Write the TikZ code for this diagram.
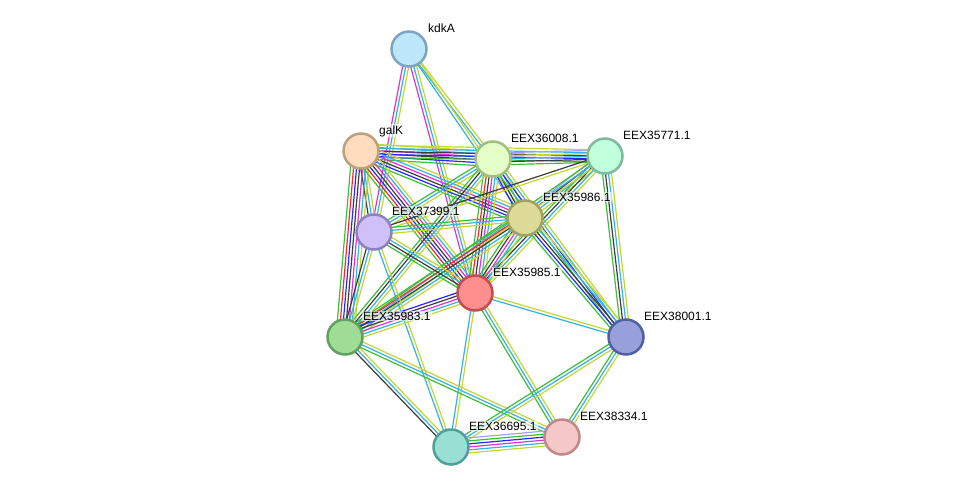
\documentclass[tikz,border=0pt]{standalone}
\usepackage{fontspec}
\setmainfont{Liberation Sans}
\usetikzlibrary{calc}
\definecolor{cG}{RGB}{60,190,60}
\definecolor{cR}{RGB}{250,40,40}
\definecolor{cB}{RGB}{40,40,250}
\definecolor{cK}{RGB}{60,60,60}
\definecolor{cM}{RGB}{220,50,220}
\definecolor{cC}{RGB}{50,180,220}
\definecolor{cY}{RGB}{195,215,50}
\definecolor{cL}{RGB}{160,160,255}
\tikzset{
 edgeline/.style={line width=1.2pt},
 prot/.style={circle, minimum size=35pt, inner sep=0pt, line width=2.5pt},
 lab/.style={anchor=base west, font=\fontsize{12}{14}\selectfont, fill=white, fill opacity=0.6, text opacity=1, inner sep=1pt},
}
\def\lsep{3.0}
\newcommand\medge[4]{%
  \foreach \c [count=\i] in {#4}{%
    \pgfmathsetmacro\off{(\i-1-(#3-1)/2)*\lsep}%
    \draw[\c, edgeline] ($(#1)!\off pt!90:(#2)$) -- ($(#2)!\off pt!-90:(#1)$);
  }}
\begin{document}
\begin{tikzpicture}[x=1pt,y=-1pt]
\useasboundingbox (0,0) rectangle (976,493);
\fill[white] (0,0) rectangle (976,493);
\coordinate (kdkA) at (409,49);
\coordinate (galK) at (361,151);
\coordinate (E36008) at (493,159);
\coordinate (E35771) at (605,156);
\coordinate (E35986) at (525,218);
\coordinate (E37399) at (374,232);
\coordinate (E35985) at (475,293);
\coordinate (E35983) at (345,337);
\coordinate (E38001) at (626,337);
\coordinate (E38334) at (562,437);
\coordinate (E36695) at (451,447);
% edges
\medge{kdkA}{E37399}{3}{cM,cC,cY}
\medge{kdkA}{E35985}{3}{cM,cC,cY}
\medge{kdkA}{E36008}{2}{cC,cY}
\medge{kdkA}{E35986}{2}{cC,cY}
\medge{galK}{E36008}{6}{cG,cB,cK,cM,cC,cY}
\medge{galK}{E35771}{5}{cG,cB,cK,cC,cY}
\medge{galK}{E37399}{3}{cK,cC,cY}
\medge{galK}{E35983}{7}{cG,cR,cB,cK,cM,cC,cY}
\medge{galK}{E35986}{6}{cG,cB,cK,cM,cC,cY}
\medge{galK}{E35985}{7}{cG,cR,cB,cK,cM,cC,cY}
\medge{E36008}{E35771}{5}{cG,cK,cC,cY,cL}
\medge{E36008}{E37399}{3}{cG,cC,cY}
\medge{E36008}{E35985}{6}{cG,cR,cK,cM,cC,cY}
\medge{E36008}{E35983}{4}{cG,cK,cC,cY}
\medge{E36008}{E35986}{4}{cB,cK,cC,cY}
\medge{E36008}{E38001}{4}{cG,cB,cC,cY}
\medge{E35771}{E35986}{4}{cL,cK,cC,cY}
\medge{E35771}{E37399}{2}{cK,cY}
\medge{E35771}{E35985}{4}{cG,cK,cC,cY}
\medge{E35771}{E35983}{3}{cG,cC,cY}
\medge{E35771}{E38001}{4}{cG,cK,cC,cY}
\medge{E35986}{E37399}{3}{cG,cC,cY}
\medge{E35986}{E35985}{5}{cG,cK,cM,cC,cY}
\medge{E35986}{E35983}{5}{cG,cR,cK,cC,cY}
\medge{E35986}{E38001}{5}{cG,cB,cK,cC,cY}
\medge{E37399}{E35985}{4}{cG,cK,cC,cY}
\medge{E37399}{E35983}{3}{cK,cC,cY}
\medge{E37399}{E36695}{2}{cC,cY}
\medge{E35985}{E35983}{5}{cB,cK,cM,cC,cY}
\medge{E35985}{E38001}{2}{cC,cY}
\medge{E35985}{E36695}{2}{cC,cY}
\medge{E35985}{E38334}{3}{cG,cC,cY}
\medge{E35983}{E36695}{3}{cK,cC,cY}
\medge{E35983}{E38334}{3}{cG,cC,cY}
\medge{E38001}{E36695}{3}{cG,cC,cY}
\medge{E38001}{E38334}{3}{cG,cC,cY}
\medge{E36695}{E38334}{6}{cY,cC,cM,cB,cG,cL}
% nodes
\node[prot, fill={rgb,255:red,190;green,230;blue,250}, draw={rgb,255:red,125;green,165;blue,195}] (kdkA-n) at (kdkA) {};
\node[prot, fill={rgb,255:red,253;green,221;blue,190}, draw={rgb,255:red,190;green,160;blue,128}] (galK-n) at (galK) {};
\node[prot, fill={rgb,255:red,228;green,255;blue,200}, draw={rgb,255:red,160;green,192;blue,128}] (E36008-n) at (E36008) {};
\node[prot, fill={rgb,255:red,192;green,255;blue,220}, draw={rgb,255:red,128;green,184;blue,160}] (E35771-n) at (E35771) {};
\node[prot, fill={rgb,255:red,220;green,218;blue,150}, draw={rgb,255:red,160;green,160;blue,96}] (E35986-n) at (E35986) {};
\node[prot, fill={rgb,255:red,208;green,192;blue,248}, draw={rgb,255:red,144;green,128;blue,192}] (E37399-n) at (E37399) {};
\node[prot, fill={rgb,255:red,255;green,142;blue,142}, draw={rgb,255:red,192;green,80;blue,80}] (E35985-n) at (E35985) {};
\node[prot, fill={rgb,255:red,160;green,220;blue,150}, draw={rgb,255:red,96;green,160;blue,96}] (E35983-n) at (E35983) {};
\node[prot, fill={rgb,255:red,152;green,160;blue,220}, draw={rgb,255:red,80;green,96;blue,160}] (E38001-n) at (E38001) {};
\node[prot, fill={rgb,255:red,245;green,200;blue,200}, draw={rgb,255:red,192;green,136;blue,136}] (E38334-n) at (E38334) {};
\node[prot, fill={rgb,255:red,152;green,224;blue,212}, draw={rgb,255:red,80;green,160;blue,152}] (E36695-n) at (E36695) {};
% labels
\node[lab] (kdkA-l) at ($(kdkA)+(18,-17)$) {kdkA};
\node[lab] (galK-l) at ($(galK)+(17,-17)$) {galK};
\node[lab] (E36008-l) at ($(E36008)+(17,-17)$) {EEX36008.1};
\node[lab] (E35771-l) at ($(E35771)+(17,-17)$) {EEX35771.1};
\node[lab] (E35986-l) at ($(E35986)+(17,-17)$) {EEX35986.1};
\node[lab] (E37399-l) at ($(E37399)+(17,-17)$) {EEX37399.1};
\node[lab] (E35985-l) at ($(E35985)+(17,-17)$) {EEX35985.1};
\node[lab] (E35983-l) at ($(E35983)+(17,-17)$) {EEX35983.1};
\node[lab] (E38001-l) at ($(E38001)+(17,-17)$) {EEX38001.1};
\node[lab] (E38334-l) at ($(E38334)+(17,-17)$) {EEX38334.1};
\node[lab] (E36695-l) at ($(E36695)+(17,-17)$) {EEX36695.1};
\end{tikzpicture}
\end{document}
